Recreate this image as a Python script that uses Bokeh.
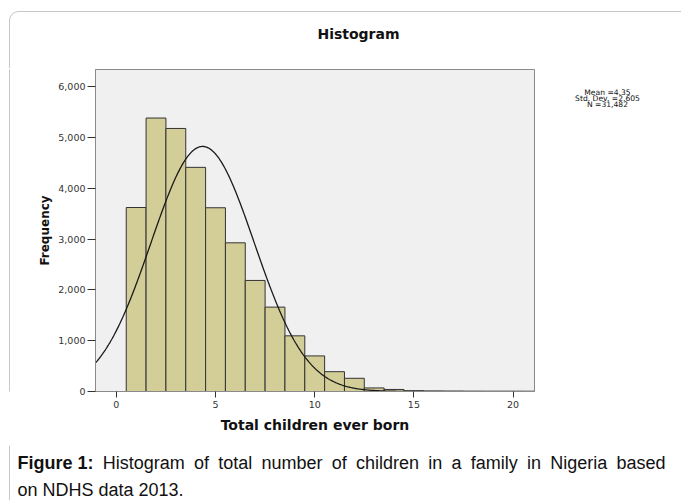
import numpy as np
from bokeh.plotting import figure
from bokeh.layouts import column, row
from bokeh.models import FixedTicker, NumeralTickFormatter, Label, BoxAnnotation, ColumnDataSource, Range1d
from bokeh.embed import file_html
from bokeh.resources import INLINE

# ---- data ----
children = list(range(1, 21))
frequency = [3620, 5380, 5175, 4410, 3615, 2925, 2185, 1660, 1095, 700,
             390, 260, 70, 40, 15, 8, 5, 2, 1, 1]
mean_val = 4.35
std_dev = 2.605
n_total = 31482
x_ticks = [0, 5, 10, 15, 20]
y_ticks = [0, 1000, 2000, 3000, 4000, 5000, 6000]
title_text = "Histogram"
x_label = "Total children ever born"
y_label = "Frequency"
stats_lines = ["Mean =4.35", "Std. Dev. =2.605", "N =31,482"]
caption_bold = "Figure 1:"
caption_line1 = "Histogram of total number of children in a family in Nigeria based"
caption_line2 = "on NDHS data 2013."

# ---- page layout (px) ----
PAGE_W, PAGE_H = 681, 500
TOP_H = 68            # strip with title
MID_Y1 = 445          # bottom of middle row
LEFT_W = 20
STATS_X = 545
FRAME = dict(left=95, right=534, top=69, bottom=391)   # plot area on the page
X0, X1 = -1.05, 21.08
Y0, Y1 = 0, 6335
BORDER = "#444444"


def blank(w, h):
    f = figure(width=w, height=h, output_backend="svg", toolbar_location=None,
               x_axis_type=None, y_axis_type=None, title=None,
               x_range=Range1d(0, w), y_range=Range1d(h, 0), min_border=0)
    f.outline_line_color = None
    f.background_fill_color = "white"
    f.border_fill_color = "white"
    return f


def text(f, ox, oy, px, py, t, size, bold=False, font="DejaVu Sans", align="center"):
    f.add_layout(Label(x=px - ox, y=py - oy, text=t, text_align=align,
                       text_baseline="middle", text_font=font,
                       text_font_style="bold" if bold else "normal",
                       text_font_size=size, text_color="#111111"))


def left_border(f, ox, oy, top_px=-1000):
    f.add_layout(BoxAnnotation(left=9 - ox, right=5000, top=top_px - oy, bottom=5000,
                               fill_color=None, line_color=BORDER, line_width=1,
                               border_radius=9))

# ---- top strip: frame corner + title ----
top = blank(PAGE_W, TOP_H)
left_border(top, 0, 0, top_px=11)
text(top, 0, 0, 358, 33, title_text, "14px", bold=True)

# ---- left strip: frame edge ----
mid_h = MID_Y1 - TOP_H
lstrip = blank(LEFT_W, mid_h)
left_border(lstrip, 0, TOP_H)

# ---- main histogram ----
main_w = STATS_X - LEFT_W
p = figure(width=main_w, height=mid_h, output_backend="svg", toolbar_location=None,
           title=None, x_range=Range1d(X0, X1), y_range=Range1d(Y0, Y1),
           min_border_left=FRAME["left"] - LEFT_W,
           min_border_right=STATS_X - FRAME["right"],
           min_border_top=FRAME["top"] - TOP_H,
           min_border_bottom=MID_Y1 - FRAME["bottom"])
p.background_fill_color = "#F0F0F0"
p.border_fill_color = "white"
p.outline_line_color = "#8a8a8a"
p.outline_line_width = 1
p.xgrid.visible = False
p.ygrid.visible = False

left = [c - 0.5 for c in children]
right = [c + 0.5 for c in children]
src = ColumnDataSource(dict(left=left, right=right, top=frequency, bottom=[0] * len(children)))
p.quad(left="left", right="right", top="top", bottom="bottom", source=src,
       fill_color="#D3CE97", line_color="#333333", line_width=1)

# fitted normal curve from the stated mean, std. dev. and N (bin width 1)
xs = np.linspace(X0, X1, 500)
ys = n_total * np.exp(-0.5 * ((xs - mean_val) / std_dev) ** 2) / (std_dev * np.sqrt(2 * np.pi))
p.line(xs, ys, line_color="#1a1a1a", line_width=1.3)

for ax in (p.xaxis[0], p.yaxis[0]):
    ax.major_tick_in = 0
    ax.minor_tick_line_color = None
    ax.axis_line_color = "#8a8a8a"
    ax.major_tick_line_color = "#333333"
    ax.major_label_text_font = "DejaVu Sans"
    ax.major_label_text_font_size = "9.5px"
    ax.major_label_text_color = "#333333"
    ax.axis_label_text_font = "DejaVu Sans"
    ax.axis_label_text_font_style = "bold"
    ax.axis_label_text_color = "#111111"

p.yaxis.ticker = FixedTicker(ticks=y_ticks)
p.yaxis.formatter = NumeralTickFormatter(format="0,0")
p.yaxis.major_tick_out = 8
p.yaxis.major_label_standoff = 2
p.yaxis.axis_label = y_label
p.yaxis.axis_label_text_font_size = "12px"
p.yaxis.axis_label_standoff = 3

p.xaxis.ticker = FixedTicker(ticks=x_ticks)
p.xaxis.major_tick_out = 6
p.xaxis.major_label_standoff = 3
p.xaxis.axis_label = x_label
p.xaxis.axis_label_text_font_size = "14px"
p.xaxis.axis_label_standoff = 6

# ---- stats text at the right ----
stats = blank(PAGE_W - STATS_X, mid_h)
for i, t in enumerate(stats_lines):
    text(stats, STATS_X, TOP_H, 607, 94.5 + i * 7.0, t, "7.6px")

# ---- caption (justified first line) ----
cap_h = PAGE_H - MID_Y1
cap = blank(PAGE_W, cap_h)
left_border(cap, 0, MID_Y1)

REG = dict(zip("abcdefghilmnorstuyHN ", [556, 556, 500, 556, 556, 278, 556, 556, 222, 222,
                                           833, 556, 556, 333, 500, 278, 556, 500, 722, 722, 278]))
BOLD = dict(zip("Figure 1:", [611, 278, 611, 611, 389, 556, 278, 556, 333]))
CAP_SIZE = 18
items = [(caption_bold, True)] + [(w, False) for w in caption_line1.split()]
widths = [sum((BOLD if b else REG)[ch] for ch in w) * CAP_SIZE / 1000 for w, b in items]
line_x0, line_x1 = 17, 665
gap = (line_x1 - line_x0 - sum(widths)) / (len(items) - 1)
x = line_x0
for (w, b), wd in zip(items, widths):
    text(cap, 0, MID_Y1, x, 462, w, f"{CAP_SIZE}px", bold=b, font="Liberation Sans", align="left")
    x += wd + gap
text(cap, 0, MID_Y1, 17, 489.5, caption_line2, f"{CAP_SIZE}px", font="Liberation Sans", align="left")

layout = column(top, row(lstrip, p, stats), cap)
open("out.html", "w").write(file_html(layout, INLINE))
